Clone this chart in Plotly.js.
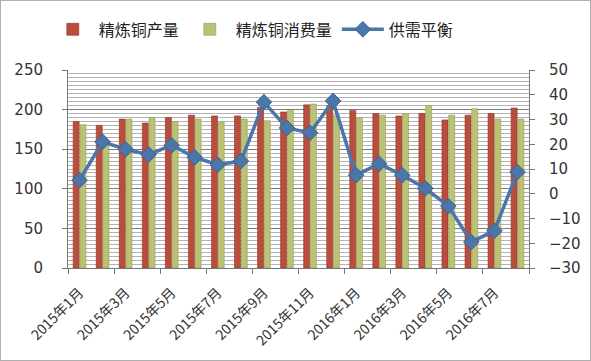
<!DOCTYPE html>
<html>
<head>
<meta charset="utf-8">
<script src="https://cdn.plot.ly/plotly-3.0.1.min.js"></script>
<style>
html,body{margin:0;padding:0;background:#fff;}
#chart{width:589px;height:359px;border:1px solid #b0b0b0;}
</style>
</head>
<body>
<div id="chart"></div>
<script>
var categories = ["2015年1月","2015年2月","2015年3月","2015年4月","2015年5月","2015年6月","2015年7月","2015年8月","2015年9月","2015年10月","2015年11月","2015年12月","2016年1月","2016年2月","2016年3月","2016年4月","2016年5月","2016年6月","2016年7月","2016年8月"];
var production = [185,180,188,183,190,193,192,192,203,197,206,205,199,195,192,195,187,193,195,202];
var consumption = [181,158,188,190,185,188,184,188,186,199,207,193,189,193,195,205,193,201,188,188];
var balance = [5.5,21,18,15.8,19.6,14.7,11.7,13.2,37,26.6,24.6,37.5,7.5,12.1,7.5,2.2,-5,-19.5,-14.9,8.8];
var seriesNames = ["精炼铜产量","精炼铜消费量","供需平衡"];

var cjk = '"Noto Sans CJK SC", "DejaVu Sans", sans-serif';
var num = '"DejaVu Sans", "Noto Sans CJK SC", sans-serif';

var traces = [
  {type:'bar', name:seriesNames[0], x:categories, y:production,
   marker:{color:'#bb4d3d', line:{color:'#8e3428', width:0.6}}},
  {type:'bar', name:seriesNames[1], x:categories, y:consumption,
   marker:{color:'#bcc275', line:{color:'#949a52', width:0.6}}},
  {type:'scatter', mode:'lines+markers', name:seriesNames[2], x:categories, y:balance, yaxis:'y2',
   line:{color:'#4a76aa', width:3.5},
   marker:{symbol:'diamond', size:12, color:'#4a76aa', line:{color:'#3d6290', width:1}}}
];

var layout = {
  width:589, height:359,
  margin:{l:67, r:61, t:65, b:92},
  paper_bgcolor:'#fff', plot_bgcolor:'#fff',
  barmode:'group', bargap:0.42, bargroupgap:0.1,
  showlegend:true,
  legend:{orientation:'h', x:-0.046, xanchor:'left', y:1.205, yanchor:'middle',
          font:{family:cjk, size:16, color:'#222'}, itemwidth:42, tracegroupgap:0,
          bgcolor:'rgba(0,0,0,0)'},
  xaxis:{type:'category', range:[-0.5, categories.length-0.5], autorange:false,
         tickson:'boundaries', dtick:2, tickangle:-45,
         ticks:'outside', ticklen:5, tickcolor:'#777', ticklabelstandoff:10,
         showline:true, linecolor:'#777', linewidth:1, showgrid:false,
         tickfont:{family:cjk, size:14, color:'#333'}, automargin:false},
  yaxis:{range:[0,250], dtick:50, showline:true, linecolor:'#777', linewidth:1,
         ticks:'outside', ticklen:5, tickcolor:'#777', ticklabelstandoff:16,
         gridcolor:'#7c7c7c', gridwidth:1, zeroline:false,
         minor:{dtick:5, showgrid:true, gridcolor:'#b4b4b4', gridwidth:1},
         tickfont:{family:num, size:15, color:'#333'}},
  yaxis2:{range:[-30,50], dtick:10, overlaying:'y', side:'right', showgrid:false,
          showline:true, linecolor:'#777', linewidth:1, zeroline:false,
          ticks:'outside', ticklen:5, tickcolor:'#777', ticklabelstandoff:11,
          tickfont:{family:num, size:15, color:'#333'}}
};

Plotly.newPlot('chart', traces, layout, {displayModeBar:false, staticPlot:true});
</script>
</body>
</html>
